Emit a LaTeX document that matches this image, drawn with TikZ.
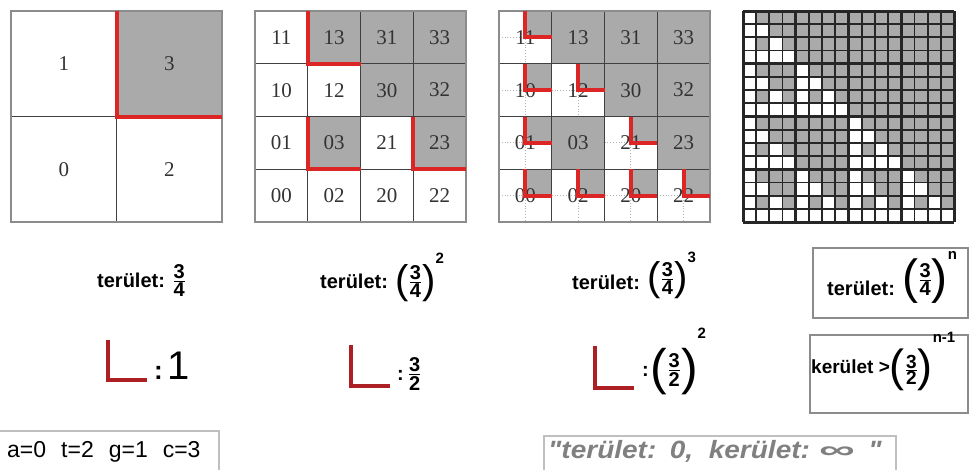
\documentclass[tikz,border=0pt]{standalone}
\usepackage{amsmath}
\usepackage{fontspec}
\setmainfont{Liberation Sans}[Ligatures=TeXOff]
\newfontfamily\cellfont{Liberation Serif}
\usetikzlibrary{positioning}
\definecolor{tilegray}{RGB}{170,170,170}
\definecolor{redmark}{RGB}{220,38,38}
\definecolor{darkred}{RGB}{172,32,36}
\newcommand{\frc}[2]{\ensuremath{\tfrac{\mbox{#1}}{\mbox{#2}}}}
\newcommand{\lp}[1][40]{\raisebox{\dimexpr5pt-#1pt*26/100\relax}{\mdseries\fontsize{#1}{#1}\selectfont(}}
\newcommand{\rp}[1][40]{\raisebox{\dimexpr5pt-#1pt*26/100\relax}{\mdseries\fontsize{#1}{#1}\selectfont)}}
\newcommand{\up}[2][25pt]{\raisebox{#1}{\fontsize{15}{15}\selectfont#2}}
\newcommand{\markL}[3]{\draw[redline] ({#1+#3/2},{#2}) -- ({#1+#3/2},{#2+#3/2}) -- ({#1+#3},{#2+#3/2});}

\begin{document}
\begin{tikzpicture}[x=1pt,y=-1pt,
  tile/.style={fill=tilegray},
  num/.style={font=\cellfont\fontsize{21}{21}\selectfont,text=black!80,inner sep=0},
  cellline/.style={draw=black!75,line width=1.3pt},
  border/.style={draw=black!45,line width=1.8pt},
  halfline/.style={draw=black!30,line width=0.8pt,dotted},
  redline/.style={draw=redmark,line width=4pt},
  Lsign/.style={draw=darkred,line width=4pt},
  area/.style={font=\bfseries\fontsize{20}{24}\selectfont,anchor=base west,inner sep=0},
  frame/.style={draw=black!45,line width=1.5pt,anchor=north west,inner sep=0}]
  \useasboundingbox (0,0) rectangle (970,469);

  % first step
  \fill[tile] (116.5,11) rectangle (222,116.5);
  \draw[cellline] (116.5,11) -- (116.5,222) (11,116.5) -- (222,116.5);
  \draw[border] (11,11) rectangle (222,222);
  \node[num] (q1) at (63.75,63.75) {1};
  \node[num] (q3) at (169.25,63.75) {3};
  \node[num] (q0) at (63.75,169.25) {0};
  \node[num] (q2) at (169.25,169.25) {2};
  \markL{11}{11}{211}

  % second step
  \foreach \i in {0,...,3}{
    \foreach \r in {0,...,3}{
      \pgfmathtruncatemacro\jj{3-\r}
      \pgfmathtruncatemacro\wh{(1-mod(\i,2)*mod(\jj,2))*(1-floor(\i/2)*floor(\jj/2))}
      \pgfmathtruncatemacro\qa{2*floor(\i/2)+floor(\jj/2)}
      \pgfmathtruncatemacro\qb{2*mod(\i,2)+mod(\jj,2)}
      \pgfmathsetmacro\cx{255+\i*52.75}
      \pgfmathsetmacro\cy{11+\r*52.75}
      \ifnum\wh=0 \fill[tile] (\cx,\cy) rectangle ++(52.75,52.75);\fi
      \node[num] (s\qa\qb) at (\cx+26.375,\cy+26.375) {\qa\qb};
    }
  }
  \foreach \k in {1,2,3}{
    \draw[cellline] (255+\k*52.75,11) -- ++(0,211);
    \draw[cellline] (255,11+\k*52.75) -- ++(211,0);
  }
  \draw[border] (255,11) rectangle ++(211,211);
  \markL{255}{11}{105.5}
  \markL{255}{116.5}{105.5}
  \markL{360.5}{116.5}{105.5}

  % third step
  \foreach \i in {0,...,3}{
    \foreach \r in {0,...,3}{
      \pgfmathtruncatemacro\jj{3-\r}
      \pgfmathtruncatemacro\wh{(1-mod(\i,2)*mod(\jj,2))*(1-floor(\i/2)*floor(\jj/2))}
      \pgfmathsetmacro\cx{499+\i*52.75}
      \pgfmathsetmacro\cy{11+\r*52.75}
      \ifnum\wh=0
        \fill[tile] (\cx,\cy) rectangle ++(52.75,52.75);
      \else
        \fill[tile] (\cx+26.375,\cy) rectangle ++(26.375,26.375);
        \draw[halfline] (\cx,\cy+26.375) -- ++(52.75,0) (\cx+26.375,\cy) -- ++(0,52.75);
      \fi
    }
  }
  \foreach \k in {1,2,3}{
    \draw[cellline] (499+\k*52.75,11) -- ++(0,211);
    \draw[cellline] (499,11+\k*52.75) -- ++(211,0);
  }
  \draw[border] (499,11) rectangle ++(211,211);
  \foreach \i in {0,...,3}{
    \foreach \r in {0,...,3}{
      \pgfmathtruncatemacro\jj{3-\r}
      \pgfmathtruncatemacro\wh{(1-mod(\i,2)*mod(\jj,2))*(1-floor(\i/2)*floor(\jj/2))}
      \pgfmathtruncatemacro\qa{2*floor(\i/2)+floor(\jj/2)}
      \pgfmathtruncatemacro\qb{2*mod(\i,2)+mod(\jj,2)}
      \pgfmathsetmacro\cx{499+\i*52.75}
      \pgfmathsetmacro\cy{11+\r*52.75}
      \node[num] (t\qa\qb) at (\cx+26.375,\cy+26.375) {\qa\qb};
      \ifnum\wh=1 \markL{\cx}{\cy}{52.75}\fi
    }
  }

  % fourth step
  \foreach \i in {0,...,15}{
    \foreach \r in {0,...,15}{
      \pgfmathtruncatemacro\jj{15-\r}
      \pgfmathtruncatemacro\wh{(1-mod(\i,2)*mod(\jj,2))*(1-mod(floor(\i/2),2)*mod(floor(\jj/2),2))*(1-mod(floor(\i/4),2)*mod(floor(\jj/4),2))*(1-floor(\i/8)*floor(\jj/8))}
      \ifnum\wh=0 \fill[tile] (743+\i*13.1875,11+\r*13.1875) rectangle ++(13.1875,13.1875);\fi
    }
  }
  \foreach \k in {0,...,16}{
    \draw[black!85,line width=1.8pt] (743+\k*13.1875,11) -- ++(0,211);
    \draw[black!85,line width=1.8pt] (743,11+\k*13.1875) -- ++(211,0);
  }
  \foreach \k in {0,4,...,16}{
    \draw[black!85,line width=3pt] (743+\k*13.1875,11) -- ++(0,211);
    \draw[black!85,line width=3pt] (743,11+\k*13.1875) -- ++(211,0);
  }

  % area and perimeter
  \node[area] (a1) at (97,287) {terület: \frc34};
  \node[area] (a2) at (320,288) {terület: \lp\frc34\rp\up{2}};
  \node[area] (a3) at (572,289) {terület: \raisebox{4pt}{\lp\frc34\rp}\up[27pt]{3}};
  \node[frame,minimum width=155pt,minimum height=70pt] (areabox) at (812,247) {};
  \node[area] (an) at (827,295) {terület: \raisebox{9pt}{\lp[48]\frc34\rp[48]}\up[36pt]{n}};
  \node[frame,minimum width=158pt,minimum height=78pt] (perimbox) at (809,334) {};
  \node[area,font=\bfseries\fontsize{19}{24}\selectfont] (pn) at (811,373) {kerület >\raisebox{-2pt}{\lp[45]\frc32\rp[45]}\up[31pt]{n-1}};

  \draw[Lsign] (108,340) -- (108,380) -- (147,380);
  \node[anchor=base west,inner sep=0,font=\bfseries\fontsize{26}{26}\selectfont] (l1) at (154,379) {:\hspace{5pt}{\mdseries\fontsize{40}{40}\selectfont 1}};
  \draw[Lsign] (351,345) -- (351,386) -- (390,386);
  \node[area] (l2) at (397,380) {:\hspace{4pt}\frc32};
  \draw[Lsign] (595,346) -- (595,388) -- (634,388);
  \node[area] (l3) at (642,376) {:\hspace{2pt}\lp[50]\frc32\rp[50]\up[38pt]{2}};

  % bottom notes
  \node[frame,draw=black!25,minimum width=220pt,minimum height=50pt] (codebox) at (-2,430) {};
  \node[anchor=base west,inner sep=0,font=\fontsize{23}{23}\selectfont] (codes) at (7,457) {a=0\hspace{15pt}t=2\hspace{15pt}g=1\hspace{15pt}c=3};
  \node[frame,draw=black!25,minimum width=352pt,minimum height=45pt] (limbox) at (543,435) {};
  \node[anchor=base west,inner sep=0,text=black!50,font=\bfseries\itshape\fontsize{25}{25}\selectfont] (limit) at (548,458) {\scalebox{1.12}[1]{"terület:\hspace{12pt}0,\hspace{14pt}kerület:\hspace{8pt}\scalebox{1.8}[1]{∞}\hspace{12pt}"}};
\end{tikzpicture}
\end{document}
